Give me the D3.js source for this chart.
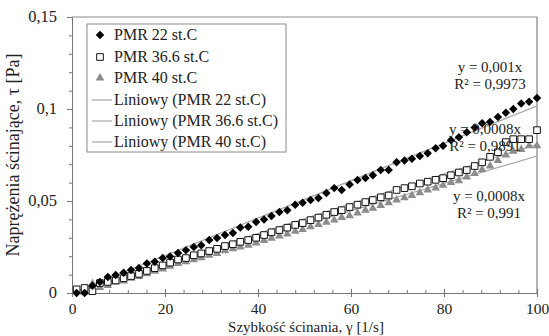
<!DOCTYPE html>
<html>
<head>
<meta charset="utf-8">
<script src="https://cdn.jsdelivr.net/npm/d3@7"></script>
<style>
  body { margin: 0; background: #fff; }
  text { font-family: "Liberation Serif", "Times New Roman", serif; fill: #222; }
</style>
</head>
<body>
<div id="chart"></div>
<script>
// shear rate [1/s]
const shearRate = [1.0, 2.7, 4.4, 6.0, 7.7, 9.4, 11.1, 12.7, 14.4, 16.1, 17.8, 19.5, 21.1, 22.8, 24.5,
  26.2, 27.8, 29.5, 31.2, 32.9, 34.6, 36.2, 37.9, 39.6, 41.3, 42.9, 44.6, 46.3, 48.0, 49.6,
  51.3, 53.0, 54.7, 56.4, 58.0, 59.7, 61.4, 63.1, 64.7, 66.4, 68.1, 69.8, 71.5, 73.1, 74.8,
  76.5, 78.2, 79.8, 81.5, 83.2, 84.9, 86.6, 88.2, 89.9, 91.6, 93.3, 94.9, 96.6, 98.3, 100.0];

// shear stress [Pa]
const pmr22 = [0.000, 0.000, 0.004, 0.006, 0.0087, 0.0098, 0.011, 0.0125, 0.0136, 0.016, 0.017, 0.019, 0.0198, 0.0217, 0.0233,
  0.025, 0.026, 0.0288, 0.0299, 0.0315, 0.0326, 0.0356, 0.036, 0.0386, 0.040, 0.0418, 0.044, 0.045, 0.048, 0.049,
  0.0505, 0.0516, 0.0543, 0.057, 0.056, 0.059, 0.0614, 0.0625, 0.064, 0.0668, 0.0668, 0.071, 0.072, 0.073, 0.0744,
  0.076, 0.0787, 0.080, 0.083, 0.0847, 0.0874, 0.090, 0.0923, 0.093, 0.0956, 0.098, 0.100, 0.103, 0.104, 0.106];
const pmr366 = [0.002, 0.0027, 0.001, 0.0054, 0.006, 0.0068, 0.008, 0.0092, 0.0104, 0.012, 0.0135, 0.015, 0.0165, 0.0182, 0.019,
  0.0205, 0.0215, 0.0228, 0.024, 0.0255, 0.0265, 0.0278, 0.0288, 0.030, 0.0315, 0.033, 0.0342, 0.0355, 0.037, 0.038,
  0.0396, 0.041, 0.0425, 0.044, 0.045, 0.0467, 0.048, 0.0494, 0.0505, 0.052, 0.053, 0.056, 0.057, 0.058, 0.0595,
  0.0605, 0.0615, 0.0624, 0.064, 0.0655, 0.0668, 0.069, 0.071, 0.074, 0.0765, 0.082, 0.0836, 0.0836, 0.0836, 0.0885];
const pmr40 = [0.001, 0.0005, 0.005, 0.003, 0.004, 0.006, 0.0065, 0.008, 0.009, 0.0105, 0.0118, 0.013, 0.0145, 0.016, 0.017,
  0.018, 0.0192, 0.0205, 0.0215, 0.023, 0.024, 0.025, 0.026, 0.0272, 0.0285, 0.0298, 0.031, 0.032, 0.0335, 0.0345,
  0.036, 0.0372, 0.0385, 0.0396, 0.041, 0.042, 0.0435, 0.045, 0.046, 0.0475, 0.049, 0.0505, 0.0518, 0.053, 0.0545,
  0.056, 0.057, 0.0585, 0.060, 0.061, 0.063, 0.065, 0.067, 0.069, 0.072, 0.075, 0.077, 0.078, 0.080, 0.080];

const seriesNames = ["PMR 22 st.C", "PMR 36.6 st.C", "PMR 40 st.C"];
const trendNames = ["Liniowy (PMR 22 st.C)", "Liniowy (PMR 36.6 st.C)", "Liniowy (PMR 40 st.C)"];
const equations = [["y = 0,001x", "R² = 0,9973"], ["y = 0,0008x", "R² = 0,9891"], ["y = 0,0008x", "R² = 0,991"]];

const xTicks = [0, 20, 40, 60, 80, 100];
const xTickLabels = ["0", "20", "40", "60", "80", "100"];
const yTicks = [0, 0.05, 0.1, 0.15];
const yTickLabels = ["0", "0,05", "0,1", "0,15"];

const width = 549, height = 336;
const svg = d3.select("#chart").append("svg")
    .attr("width", width)
    .attr("height", height);

const x = d3.scaleLinear().domain([0, 100]).range([72, 537]);
const y = d3.scaleLinear().domain([0, 0.15]).range([293, 17]);

// frame (top and right)
svg.append("line").attr("x1", x(0)).attr("x2", x(100)).attr("y1", y(0.15)).attr("y2", y(0.15))
    .style("stroke", "#8a8a8a");
svg.append("line").attr("x1", x(100)).attr("x2", x(100)).attr("y1", y(0.15)).attr("y2", y(0))
    .style("stroke", "#9a9a9a").style("stroke-width", 1.5);

// minor ticks
svg.append("g").attr("transform", "translate(0," + y(0) + ")")
    .call(d3.axisBottom(x).tickValues(d3.range(0, 101, 4)).tickSize(-3).tickFormat(""))
    .call(g => g.select(".domain").remove());
svg.append("g").attr("transform", "translate(" + x(0) + ",0)")
    .call(d3.axisLeft(y).tickValues(d3.range(0, 0.1501, 0.01)).tickSize(3).tickFormat(""))
    .call(g => g.select(".domain").remove());

// main axes
let xAxis = svg.append("g").attr("transform", "translate(0," + y(0) + ")")
    .call(d3.axisBottom(x).tickValues(xTicks).tickSize(4).tickPadding(5)
        .tickFormat((d, i) => xTickLabels[i]));
let yAxis = svg.append("g").attr("transform", "translate(" + x(0) + ",0)")
    .call(d3.axisLeft(y).tickValues(yTicks).tickSize(5).tickPadding(10)
        .tickFormat((d, i) => yTickLabels[i]));
xAxis.selectAll("text").style("font-size", "15.5px").attr("dy", "0.75em");
yAxis.selectAll("text").style("font-size", "16.5px").attr("dy", "0.3em");
svg.selectAll(".domain").style("stroke", "#777");
svg.selectAll(".tick line").style("stroke", "#777");
// upper half of major x ticks
xAxis.selectAll(".tick line").attr("y1", -4);

// axis titles
svg.append("text")
    .attr("transform", "translate(19," + 155 + ") rotate(-90)")
    .attr("text-anchor", "middle")
    .style("font-size", "18px")
    .text("Naprężenia ścinające, τ [Pa]");
svg.append("text")
    .attr("x", 306).attr("y", 331.5)
    .attr("text-anchor", "middle")
    .style("font-size", "15px")
    .text("Szybkość ścinania, γ [1/s]");

// trend lines through origin (least squares)
const allSeries = [pmr22, pmr366, pmr40];
const slopes = allSeries.map(s => d3.sum(s, (v, i) => v * shearRate[i]) / d3.sum(shearRate, v => v * v));
const trendColor = "#a6a6a6";
slopes.forEach(k => {
    svg.append("path")
        .attr("d", d3.line().x(d => x(d)).y(d => y(k * d))([0, 100]))
        .style("stroke", trendColor).style("stroke-width", 1.2).style("fill", "none");
});

// markers
const diamond = d3.symbol().type(d3.symbolSquare).size(36);
const square = d3.symbol().type(d3.symbolSquare).size(44);
const triangle = d3.symbol().type(d3.symbolTriangle).size(32);

function drawMarker(g, kind, cx, cy) {
    if (kind === 0) {
        g.append("path").attr("d", diamond())
            .attr("transform", "translate(" + cx + "," + cy + ") rotate(45)")
            .style("fill", "#000");
    } else if (kind === 1) {
        g.append("path").attr("d", square())
            .attr("transform", "translate(" + cx + "," + cy + ")")
            .style("fill", "#fff").style("stroke", "#111").style("stroke-width", 1);
    } else {
        g.append("path").attr("d", triangle())
            .attr("transform", "translate(" + cx + "," + cy + ")")
            .style("fill", "#8c8c8c");
    }
}

const pts = svg.append("g");
[pmr40, pmr366, pmr22].forEach((s, j) => {
    const kind = 2 - j;
    s.forEach((v, i) => drawMarker(pts, kind, x(shearRate[i]), y(v)));
});

// equation labels
const eqPos = [[490, 72], [485, 134], [489, 201]];
equations.forEach((eq, i) => {
    eq.forEach((t, k) => {
        svg.append("text")
            .attr("x", eqPos[i][0]).attr("y", eqPos[i][1] + k * 16.5)
            .attr("text-anchor", "middle")
            .style("font-size", "15px")
            .text(t);
    });
});

// legend
const legend = svg.append("g");
legend.append("rect")
    .attr("x", 87).attr("y", 24).attr("width", 199).attr("height", 128)
    .style("fill", "#fff").style("stroke", "#8a8a8a");
const rowY = [35, 57, 78, 100, 121, 142];
seriesNames.forEach((n, i) => {
    drawMarker(legend, i, 100, rowY[i]);
    legend.append("text").attr("x", 114).attr("y", rowY[i] + 5)
        .style("font-size", "16px").text(n);
});
trendNames.forEach((n, i) => {
    legend.append("line").attr("x1", 92).attr("x2", 112)
        .attr("y1", rowY[i + 3]).attr("y2", rowY[i + 3])
        .style("stroke", trendColor).style("stroke-width", 1.2);
    legend.append("text").attr("x", 114).attr("y", rowY[i + 3] + 5)
        .style("font-size", "16px").text(n);
});
</script>
</body>
</html>
